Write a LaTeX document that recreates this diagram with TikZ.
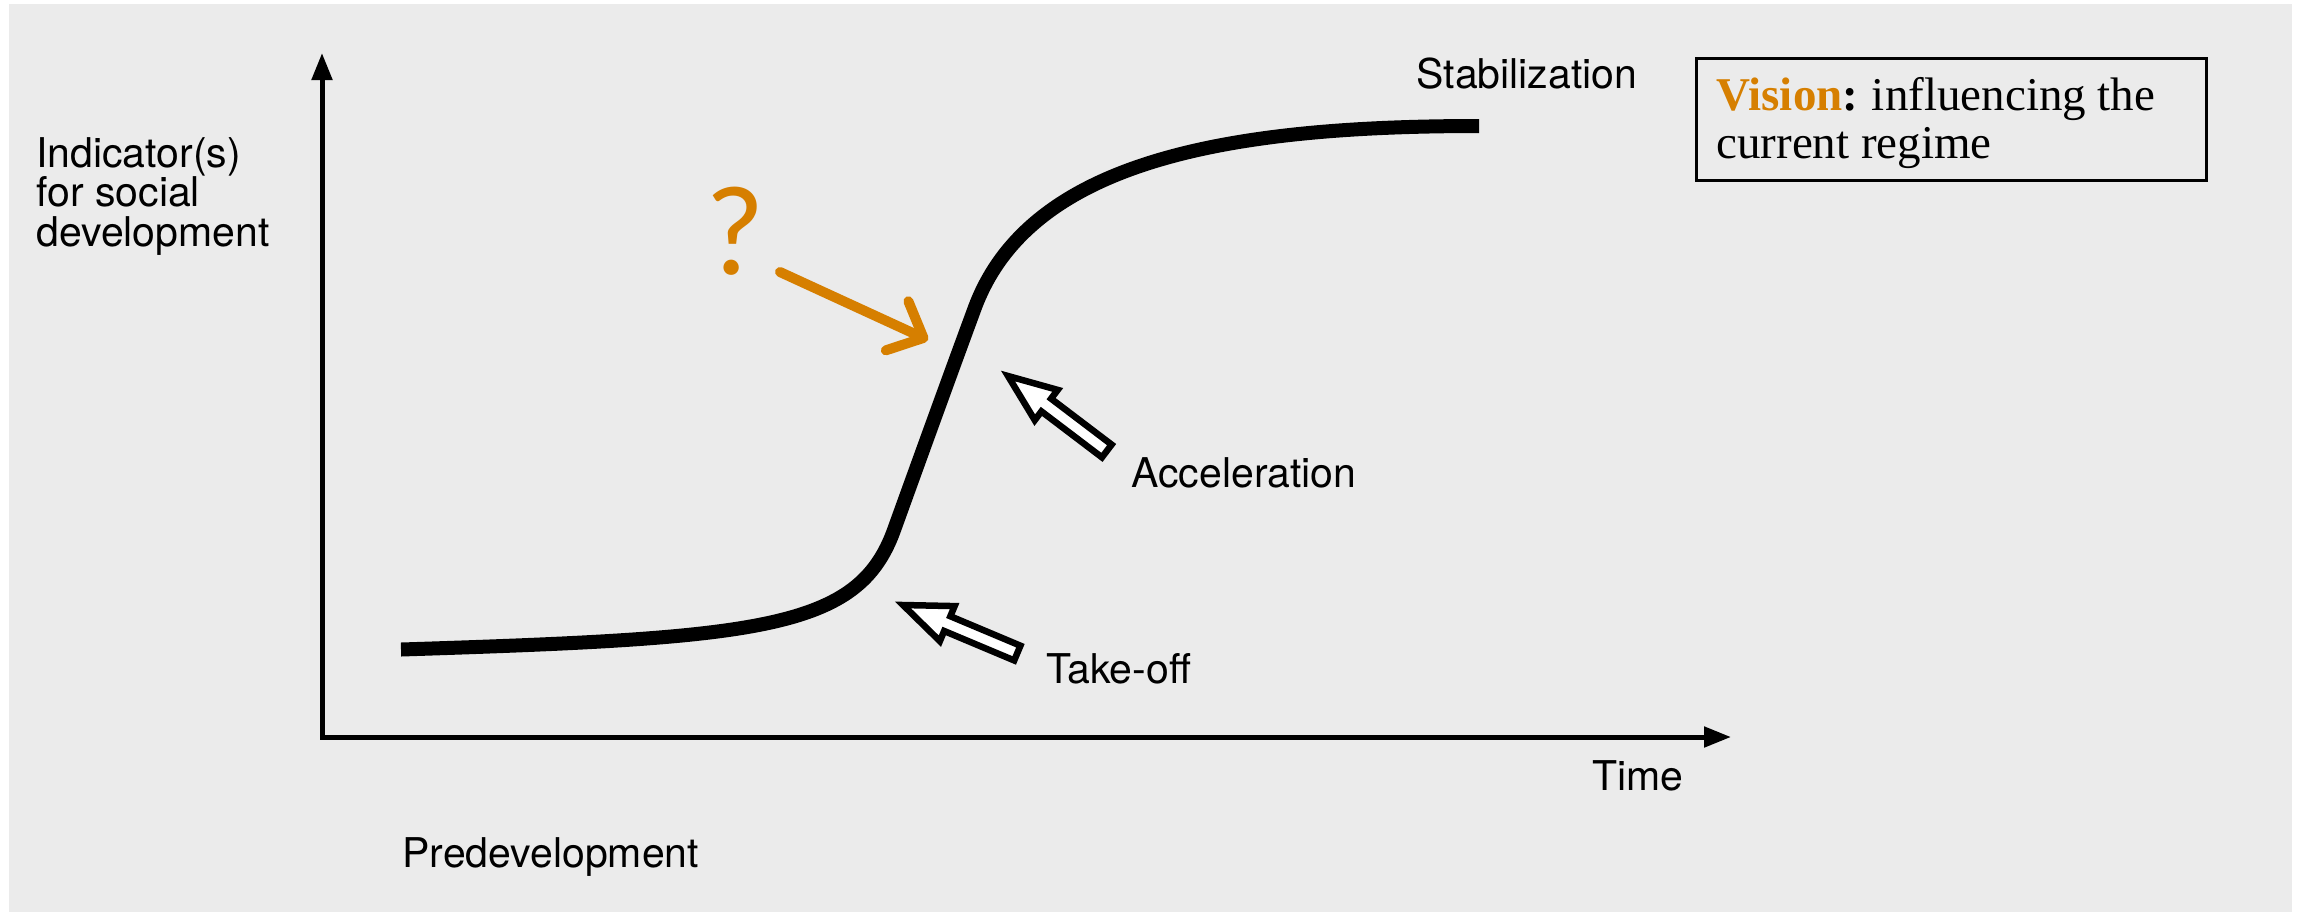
\documentclass[tikz,border=0pt]{standalone}
\usepackage{fontspec}
\setmainfont{TeX Gyre Heros}
\newfontfamily\boxserif{Liberation Serif}
\newfontfamily\qfont{Carlito}
\usetikzlibrary{arrows.meta}
\definecolor{bggray}{RGB}{235,235,235}
\definecolor{visionorange}{RGB}{214,127,0}
\begin{document}
\begin{tikzpicture}[x=0.5pt,y=-0.5pt,
  lbl/.style={anchor=base west, inner sep=0pt, font=\fontsize{20.5pt}{19.75pt}\selectfont},
  axisline/.style={line width=2.5pt, -{Triangle[length=13.5pt,width=10pt]}},
  scurve/.style={line width=7pt, line cap=butt, line join=round},
  hollowarrow/.style={draw=black, fill=white, line width=3.25pt, line join=miter},
  qarrow/.style={draw=visionorange, line width=5pt, line cap=round, line join=round, -{Straight Barb[length=14.5pt,width=27pt,round]}},
  boxstyle/.style={draw=black, line width=1.25pt, minimum width=255pt, minimum height=61pt, anchor=north west, inner sep=0pt},
  boxtext/.style={anchor=base west, inner sep=0pt, align=left, font=\boxserif\fontsize{23.5pt}{24pt}\selectfont}
]
\fill[white] (0,0) rectangle (2305,912);
\fill[bggray] (9,4) rectangle (2292,912);
\useasboundingbox (0,0) rectangle (2305,912);

% axes
\coordinate (origin) at (322,737);
\coordinate (xstart) at (320,737);
\coordinate (ytip) at (322,53);
\coordinate (xtip) at (1731,737);
\draw[axisline] (origin) -- (ytip);
\draw[axisline] (xstart) -- (xtip);

% S-curve
\draw[scurve] (401,649.5) .. controls (760,638) and (858,630) .. (894,530)
  .. controls (920,458) and (950,375) .. (974,310)
  .. controls (1028,160) and (1229,126) .. (1479,126);

% hollow arrows
\begin{scope}[shift={(1008,376)}, rotate=142.8]
  \draw[hollowarrow] (0,0) -- (-48,19) -- (-48,8) -- (-124,8) -- (-124,-8) -- (-48,-8) -- (-48,-19) -- cycle;
\end{scope}
\begin{scope}[shift={(903,605)}, rotate=157.2]
  \draw[hollowarrow] (0,0) -- (-48,19) -- (-48,8) -- (-124,8) -- (-124,-8) -- (-48,-8) -- (-48,-19) -- cycle;
\end{scope}

% labels
\node[lbl, align=left] (ylabel) at (36,246) {Indicator(s)\\for social\\development};
\node[lbl] (stab) at (1416,88) {Stabilization};
\node[lbl] (accel) at (1131,487) {Acceleration};
\node[lbl] (takeoff) at (1046,683) {Take-off};
\node[lbl] (time) at (1592,790) {Time};
\node[lbl] (predev) at (402,867) {Predevelopment};

% question mark and orange arrow
\node[inner sep=0pt, text=visionorange, font=\qfont\fontsize{64pt}{70pt}\selectfont] (qmark) at (735,231) {?};
\coordinate (qstart) at (780,272);
\coordinate (qend) at (928,340);
\draw[qarrow] (qstart) -- (qend);

% vision box
\node[boxstyle] (visionbox) at (1695,57) {};
\node[boxtext] (visiontext) at (1716,158) {\textcolor{visionorange}{\textbf{Vision}}\textbf{:}\hspace{-1pt} influencing the\\current regime};
\end{tikzpicture}
\end{document}
